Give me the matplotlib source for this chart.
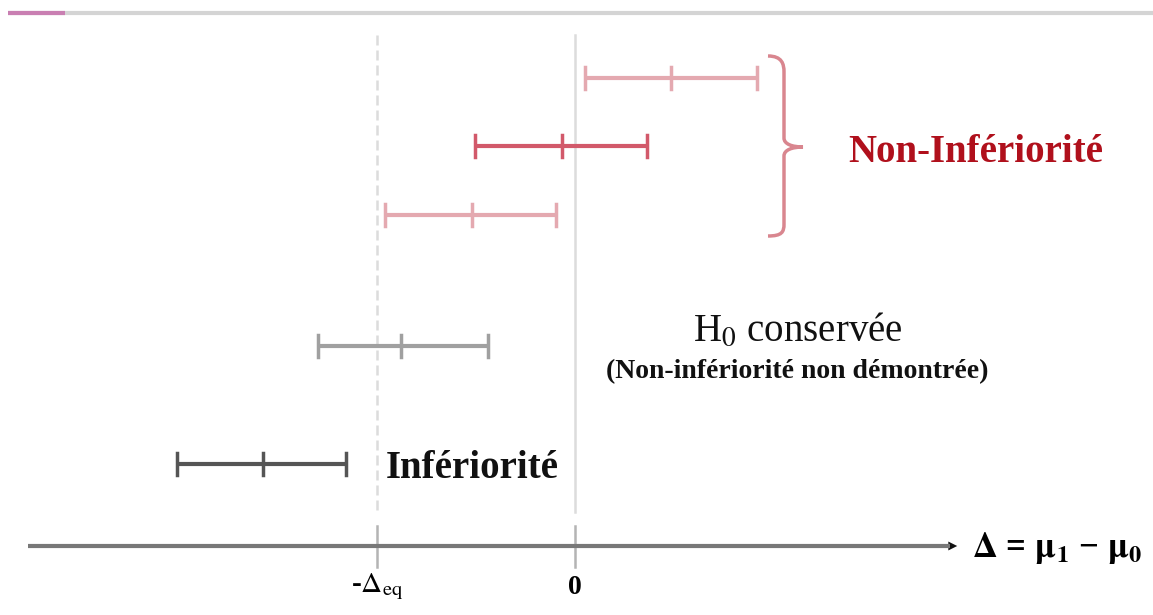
import matplotlib
matplotlib.use("Agg")
import matplotlib.pyplot as plt
from matplotlib.path import Path
from matplotlib.patches import PathPatch, FancyArrowPatch

# ---- data (in units of the equivalence margin, Delta_eq = 1) ----
ci_low = [0.05, -0.505, -0.96, -1.30, -2.01]
ci_mid = [0.485, -0.066, -0.52, -0.88, -1.575]
ci_high = [0.92, 0.364, -0.096, -0.44, -1.157]
ci_colors = ["#e4a9b0", "#d2596a", "#e4a9b0", "#a0a0a0", "#555555"]
margin = -1.0
tick_values = [-1.0, 0.0]
tick_labels = [r"-$\Delta_{\mathrm{eq}}$", "0"]

# ---- layout ----
W, H, DPI = 1153, 615, 100
X0, SCALE = 575, 198          # pixel of x=0 and pixels per unit
row_y = [78, 146, 215, 346, 464]
axis_y = 546

def ux(px):
    return (px - X0) / SCALE

plt.rcParams['font.family'] = ['Liberation Serif', 'DejaVu Serif']
plt.rcParams['mathtext.fontset'] = 'stix'

fig = plt.figure(figsize=(W / DPI, H / DPI), dpi=DPI)
ax = fig.add_axes([0, 0, 1, 1])
ax.set_xlim(ux(0), ux(W))
ax.set_ylim(H, 0)
ax.axis("off")

# top decorative rule
ax.plot([ux(8), ux(1153)], [13, 13], color="#d4d4d4", lw=3, solid_capstyle="butt")
ax.plot([ux(8), ux(65)], [13, 13], color="#c97fb2", lw=3, solid_capstyle="butt")

# reference lines
ax.plot([margin, margin], [35, 512], color="#dcdcdc", lw=1.8, ls=(0, (4, 2)))
ax.plot([0, 0], [35, 512], color="#dcdcdc", lw=1.8)
for t in tick_values:
    ax.plot([t, t], [526, 567], color="#b4b4b4", lw=1.8)

# horizontal axis with arrow
ax.plot([ux(28), ux(950)], [axis_y, axis_y], color="#787878", lw=3, solid_capstyle="butt")
ax.add_patch(FancyArrowPatch((ux(945), axis_y), (ux(960), axis_y),
                             arrowstyle="-|>", mutation_scale=16, color="#111111", lw=0))
ax.text(margin, 587, tick_labels[0], ha="center", va="center", fontsize=21, fontweight="bold")
ax.text(0, 587, tick_labels[1], ha="center", va="center", fontsize=20, fontweight="bold")
ax.text(ux(972), axis_y + 2, r"$\mathbf{\Delta}$ = $\mathbf{\mu_1}$ − $\mathbf{\mu_0}$",
        ha="left", va="center", fontsize=25, fontweight="bold")

# confidence intervals
cap = 11
for lo, mid, hi, c, y in zip(ci_low, ci_mid, ci_high, ci_colors, row_y):
    ax.plot([lo, hi], [y, y], color=c, lw=3, solid_capstyle="butt")
    for xv in (lo, hi):
        ax.plot([xv, xv], [y - cap, y + cap], color=c, lw=2.5)
    ax.plot([mid, mid], [y - cap, y + cap], color=c, lw=2.5)

# brace
bx = 784
verts = [(ux(768), 56), (ux(782), 56), (ux(bx), 64), (ux(bx), 72),
         (ux(bx), 138),
         (ux(bx), 144), (ux(792), 147), (ux(803), 147),
         (ux(792), 147), (ux(bx), 150), (ux(bx), 156),
         (ux(bx), 224),
         (ux(bx), 232), (ux(782), 236), (ux(768), 236)]
codes = [Path.MOVETO, Path.CURVE4, Path.CURVE4, Path.CURVE4,
         Path.LINETO,
         Path.CURVE4, Path.CURVE4, Path.CURVE4,
         Path.CURVE4, Path.CURVE4, Path.CURVE4,
         Path.LINETO,
         Path.CURVE4, Path.CURVE4, Path.CURVE4]
ax.add_patch(PathPatch(Path(verts, codes), fill=False, edgecolor="#d9868f", lw=2.5))

# annotations
ax.text(ux(848), 152, "Non-Infériorité", ha="left", va="center",
        fontsize=28, fontweight="bold", color="#b0101c")
ax.text(ux(798), 331, r"H$_0$ conservée", ha="center", va="center",
        fontsize=28, color="#111111")
ax.text(ux(797), 372, "(Non-infériorité non démontrée)", ha="center", va="center",
        fontsize=20, fontweight="bold", color="#111111")
ax.text(ux(386), 469, "Infériorité", ha="left", va="center",
        fontsize=28, fontweight="bold", color="#111111")

fig.savefig("out.png", dpi=DPI)
